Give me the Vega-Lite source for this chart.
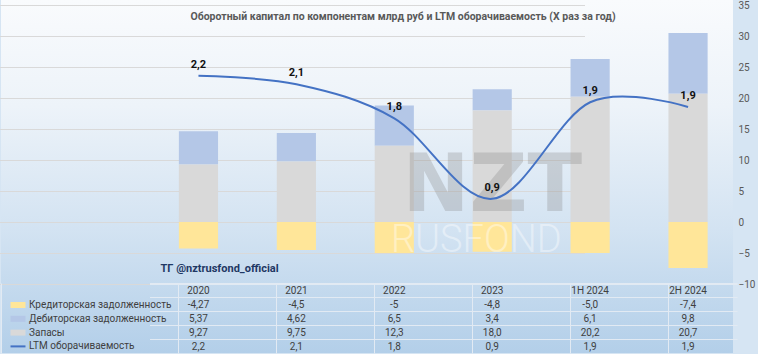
{
  "$schema": "https://vega.github.io/schema/vega-lite/v6.json",
  "width": 758,
  "height": 354,
  "autosize": {"type": "fit", "contains": "padding"},
  "padding": {"left": 0, "top": 0, "right": 3, "bottom": 0},
  "background": "#d6e5f3",
  "config": {
    "font": "Roboto",
    "view": {
      "stroke": null,
      "fill": {"gradient": "linear", "x1": 0, "y1": 0, "x2": 0, "y2": 1,
        "stops": [
          {"offset": 0, "color": "#f9fbfd"},
          {"offset": 0.3, "color": "#edf3f9"},
          {"offset": 0.65, "color": "#d3e3f2"},
          {"offset": 1, "color": "#b3cfe9"}
        ]}
    }
  },
  "title": {
    "text": "Оборотный капитал по компонентам млрд руб и  LTM оборачиваемость (X раз за год)",
    "anchor": "middle", "frame": "group", "offset": -22, "dx": 36,
    "fontSize": 10.5, "fontWeight": "bold", "color": "#595959"
  },
  "data": {
    "values": [
      {"cat": "2020", "series": "Кредиторская задолженность", "value": -4.27, "text": "-4,27"},
      {"cat": "2020", "series": "Дебиторская задолженность", "value": 5.37, "text": "5,37"},
      {"cat": "2020", "series": "Запасы", "value": 9.27, "text": "9,27"},
      {"cat": "2020", "series": "LTM оборачиваемость", "value": 2.2, "text": "2,2"},
      {"cat": "2021", "series": "Кредиторская задолженность", "value": -4.5, "text": "-4,5"},
      {"cat": "2021", "series": "Дебиторская задолженность", "value": 4.62, "text": "4,62"},
      {"cat": "2021", "series": "Запасы", "value": 9.75, "text": "9,75"},
      {"cat": "2021", "series": "LTM оборачиваемость", "value": 2.11, "text": "2,1"},
      {"cat": "2022", "series": "Кредиторская задолженность", "value": -5, "text": "-5"},
      {"cat": "2022", "series": "Дебиторская задолженность", "value": 6.5, "text": "6,5"},
      {"cat": "2022", "series": "Запасы", "value": 12.3, "text": "12,3"},
      {"cat": "2022", "series": "LTM оборачиваемость", "value": 1.75, "text": "1,8"},
      {"cat": "2023", "series": "Кредиторская задолженность", "value": -4.8, "text": "-4,8"},
      {"cat": "2023", "series": "Дебиторская задолженность", "value": 3.4, "text": "3,4"},
      {"cat": "2023", "series": "Запасы", "value": 18.0, "text": "18,0"},
      {"cat": "2023", "series": "LTM оборачиваемость", "value": 0.9, "text": "0,9"},
      {"cat": "1H 2024", "series": "Кредиторская задолженность", "value": -5.0, "text": "-5,0"},
      {"cat": "1H 2024", "series": "Дебиторская задолженность", "value": 6.1, "text": "6,1"},
      {"cat": "1H 2024", "series": "Запасы", "value": 20.2, "text": "20,2"},
      {"cat": "1H 2024", "series": "LTM оборачиваемость", "value": 1.92, "text": "1,9"},
      {"cat": "2H 2024", "series": "Кредиторская задолженность", "value": -7.4, "text": "-7,4"},
      {"cat": "2H 2024", "series": "Дебиторская задолженность", "value": 9.8, "text": "9,8"},
      {"cat": "2H 2024", "series": "Запасы", "value": 20.7, "text": "20,7"},
      {"cat": "2H 2024", "series": "LTM оборачиваемость", "value": 1.87, "text": "1,9"}
    ]
  },
  "encoding": {
    "x": {
      "field": "cat", "type": "nominal",
      "sort": ["2020", "2021", "2022", "2023", "1H 2024", "2H 2024"],
      "scale": {"range": [148.5, 736], "paddingInner": 0.6, "paddingOuter": 0.3},
      "axis": {"orient": "bottom", "offset": -70, "bandPosition": 0, "tickExtra": true, "tickSize": 70,
        "tickColor": "#e2eaf3", "domainColor": "#e2eaf3", "labels": false, "title": null, "grid": false}
    }
  },
  "layer": [
    {
      "transform": [{"filter": "datum.series !== 'LTM оборачиваемость'"}],
      "mark": {"type": "bar"},
      "encoding": {
        "y": {
          "field": "value", "type": "quantitative", "stack": "zero",
          "scale": {"domain": [-10, 35], "range": [284, 5], "nice": false, "zero": false},
          "axis": {"orient": "right", "values": [-10, -5, 0, 5, 10, 15, 20, 25, 30, 35], "grid": true,
            "gridColor": "#d9d9d9", "ticks": false, "domain": false, "labelColor": "#595959",
            "labelFontSize": 10, "labelPadding": 5, "title": null}
        },
        "color": {
          "field": "series", "type": "nominal",
          "scale": {
            "domain": ["Кредиторская задолженность", "Дебиторская задолженность", "Запасы", "LTM оборачиваемость"],
            "range": ["#ffe699", "#b4c7e7", "#d9d9d9", "#4472c4"]
          },
          "legend": {
            "orient": "none", "legendX": 12, "legendY": 300, "title": null, "direction": "vertical",
            "labelFontSize": 10, "labelColor": "#404040", "rowPadding": 3.8, "symbolSize": 56, "labelOffset": 6,
            "encode": {
              "symbols": {
                "update": {
                  "shape": {"signal": "datum.value === 'LTM оборачиваемость' ? 'M-2,0L2,0' : 'M-2,-0.8L2,-0.8L2,0.8L-2,0.8Z'"},
                  "fill": {"signal": "datum.value === 'LTM оборачиваемость' ? 'transparent' : scale('color', datum.value)"},
                  "stroke": {"signal": "scale('color', datum.value)"},
                  "strokeWidth": {"signal": "datum.value === 'LTM оборачиваемость' ? 2 : 0"},
                  "opacity": {"value": 1}
                }
              }
            }
          }
        },
        "order": {"field": "series", "sort": "descending"}
      }
    },
    {
      "data": {"values": [{"w": "NZT"}]},
      "mark": {"type": "text", "font": "DejaVu Sans", "fontSize": 80, "fontWeight": "bold", "color": "#8a8a8a", "opacity": 0.3, "align": "center", "baseline": "middle"},
      "encoding": {
        "x": {"datum": "2023", "type": "nominal"},
        "y": {"datum": 5.6, "type": "quantitative", "scale": {"domain": [-10, 35], "range": [284, 5], "nice": false, "zero": false}, "axis": null},
        "text": {"field": "w"}
      }
    },
    {
      "data": {"values": [{"w": "RUSFOND"}]},
      "mark": {"type": "text", "fontSize": 38, "fontWeight": 300, "color": "#ffffff", "opacity": 0.4, "align": "center", "baseline": "middle", "dx": -16},
      "encoding": {
        "x": {"datum": "2023", "type": "nominal"},
        "y": {"datum": -3, "type": "quantitative", "scale": {"domain": [-10, 35], "range": [284, 5], "nice": false, "zero": false}, "axis": null},
        "text": {"field": "w"}
      }
    },
    {
      "transform": [{"filter": "datum.series === 'LTM оборачиваемость'"}],
      "mark": {"type": "line", "interpolate": "cardinal", "strokeWidth": 2},
      "encoding": {
        "y": {"field": "value", "type": "quantitative", "scale": {"domain": [0, 3], "range": [284, 0], "nice": false, "zero": false}, "axis": null},
        "color": {"field": "series", "type": "nominal"}
      }
    },
    {
      "transform": [{"filter": "datum.series === 'LTM оборачиваемость'"}],
      "mark": {"type": "text", "dy": -11, "fontSize": 11, "fontWeight": "bold", "color": "#111111"},
      "encoding": {
        "y": {"field": "value", "type": "quantitative", "scale": {"domain": [0, 3], "range": [284, 0], "nice": false, "zero": false}, "axis": null},
        "text": {"field": "text"}
      }
    },
    {
      "data": {"values": [{"w": "ТГ @nztrusfond_official"}]},
      "mark": {"type": "text", "fontSize": 11, "fontWeight": "bold", "color": "#1f3864", "align": "left", "baseline": "middle", "dx": -38},
      "encoding": {
        "x": {"datum": "2020", "type": "nominal"},
        "y": {"datum": -7.5, "type": "quantitative", "scale": {"domain": [-10, 35], "range": [284, 5], "nice": false, "zero": false}, "axis": null},
        "text": {"field": "w"}
      }
    },
    {
      "mark": {"type": "text", "fontSize": 10, "color": "#404040", "align": "center"},
      "encoding": {
        "y": {
          "field": "series", "type": "nominal",
          "scale": {"type": "band", "domain": ["header", "Кредиторская задолженность", "Дебиторская задолженность", "Запасы", "LTM оборачиваемость"], "range": [284, 353.5], "paddingInner": 0, "paddingOuter": 0},
          "axis": {"orient": "left", "grid": true, "bandPosition": 0, "gridColor": "#e2eaf3", "labels": false, "ticks": false, "domain": false, "title": null}
        },
        "text": {"field": "text"}
      }
    },
    {
      "transform": [{"filter": "datum.series === 'Запасы'"}],
      "mark": {"type": "text", "fontSize": 10, "color": "#404040", "align": "center"},
      "encoding": {
        "y": {
          "datum": "header", "type": "nominal",
          "scale": {"type": "band", "domain": ["header", "Кредиторская задолженность", "Дебиторская задолженность", "Запасы", "LTM оборачиваемость"], "range": [284, 353.5], "paddingInner": 0, "paddingOuter": 0},
          "axis": null
        },
        "text": {"field": "cat"}
      }
    }
  ],
  "resolve": {"scale": {"y": "independent"}, "axis": {"y": "independent"}}
}
